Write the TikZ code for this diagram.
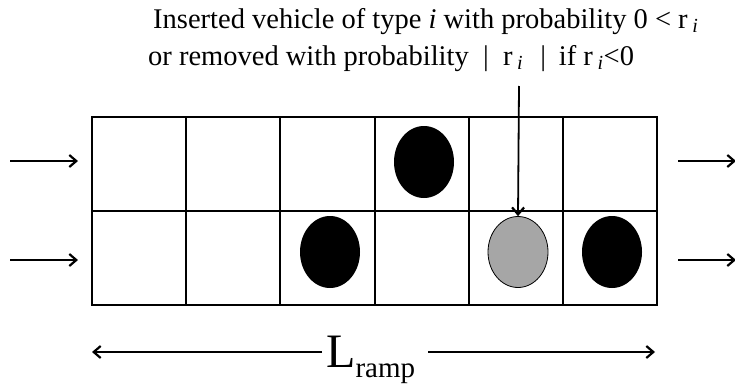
\documentclass[tikz,border=0pt]{standalone}
\usepackage{fontspec}
\setmainfont{Liberation Serif}
\usetikzlibrary{arrows.meta,shapes.geometric}
\begin{document}
\begin{tikzpicture}[x=1pt,y=-1pt,
  cell/.style={draw,line width=2pt,minimum width=94.17pt,minimum height=94pt,inner sep=0pt,anchor=north west},
  car/.style={ellipse,fill=black,minimum width=60pt,minimum height=72pt,inner sep=0pt},
  newcar/.style={ellipse,draw=black,line width=0.8pt,fill=black!35,minimum width=60pt,minimum height=71pt,inner sep=0pt},
  flow/.style={-{Straight Barb[length=7pt,width=12pt,line width=2.2pt]},line width=1.8pt},
  lab/.style={font=\fontsize{28.5}{30}\selectfont,inner sep=0pt,anchor=base west}]
\useasboundingbox (0,0) rectangle (735,388);
% grid of cells
\foreach \r in {1,2}{
  \foreach \c in {1,...,6}{
    \node[cell] (c-\r-\c) at ({91+(\c-1)*94.17},{116+(\r-1)*94}) {};
  }
}
% vehicles
\node[car] (v1) at (424,162) {};
\node[car] (v2) at (330,252) {};
\node[newcar] (g) at (518,252) {};
\node[car] (v3) at (612,252) {};
% inflow / outflow
\coordinate (in1) at (10,161);
\coordinate (in2) at (10,260);
\coordinate (out1) at (736,161);
\coordinate (out2) at (736,260);
\draw[flow,shorten >=13pt] (in1) -- (in1 -| c-1-1.west);
\draw[flow,shorten >=13pt] (in2) -- (in2 -| c-2-1.west);
\draw[flow,shorten <=20pt] (out1 -| c-1-6.east) -- (out1);
\draw[flow,shorten <=20pt] (out2 -| c-2-6.east) -- (out2);
% labels
\node[lab] (t1) at (153,28) {Inserted vehicle of type \textit{i} with probability 0 < r\,\textsubscript{\textit{i}}};
\node[lab] (t2) at (148,65) {or removed with probability\hspace{0.5em}|\hspace{0.5em}r\,\textsubscript{\textit{i}}\hspace{0.6em}|\hspace{0.45em}if r\,\textsubscript{\textit{i}}<0};
\coordinate (vtop) at (519,86);
\draw[flow] (vtop) -- (g.north);
% length of ramp
\node[inner sep=0pt,anchor=base west] (Lr) at (326,367) {\fontsize{48}{48}\selectfont L\raisebox{-10pt}{\fontsize{29}{29}\selectfont ramp}};
\coordinate (dl) at (92,352);
\coordinate (dr) at (655,352);
\draw[flow,shorten <=4pt] (dl -| Lr.west) -- (dl);
\draw[flow,shorten <=13pt] (dr -| Lr.east) -- (dr);
\end{tikzpicture}
\end{document}
